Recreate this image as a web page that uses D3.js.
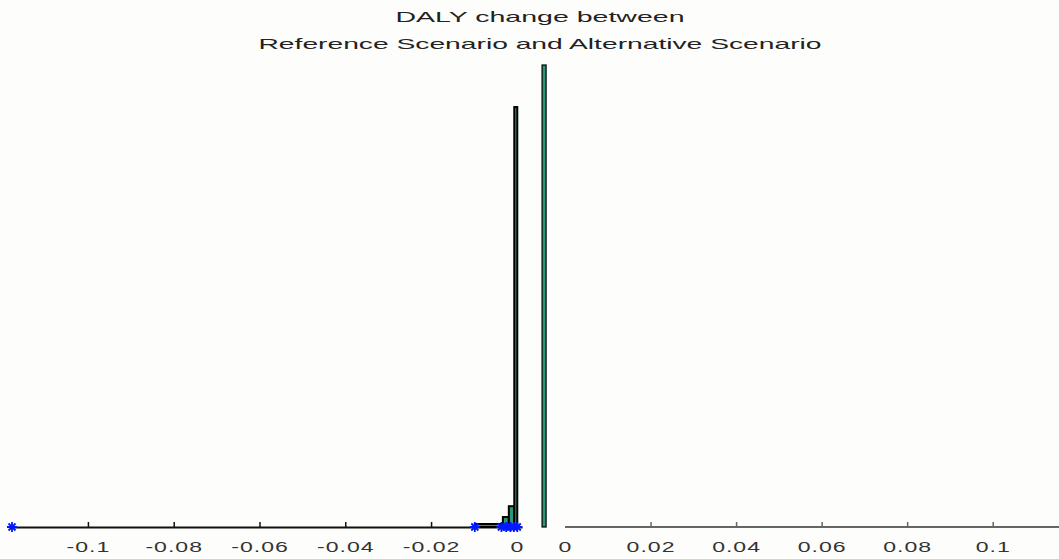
<!DOCTYPE html>
<html>
<head>
<meta charset="utf-8">
<script src="https://cdn.jsdelivr.net/npm/d3@7"></script>
<style>
  body { margin: 0; background: #fdfdfb; }
  svg { display: block; }
  text { font-family: "Liberation Sans", Arial, sans-serif; fill: #222; }
</style>
</head>
<body>
<svg width="1059" height="559"></svg>
<script>
// negative changes: histogram bin edges and counts
var leftBinEdges = [-0.0098, -0.00326, -0.00187, -0.0006, 0.0001];
var leftCounts = [6.5, 21.6, 45, 909];
// the single tall bar drawn next to the positive panel
var rightBinEdges = [-0.00536, -0.00442];
var rightCounts = [1000];
// sample points shown as asterisks on the baseline
var leftSamples = [-0.1177, -0.0098, -0.0036, -0.0025, -0.0015, -0.0007, 0.0001];
var leftTicks = [-0.1, -0.08, -0.06, -0.04, -0.02, 0];
var rightTicks = [0, 0.02, 0.04, 0.06, 0.08, 0.1];
var titleLines = ["DALY change between", "Reference Scenario and Alternative Scenario"];

var baseY = 527;
var svg = d3.select('svg');

var xLeft = d3.scaleLinear().domain([-0.1177, 0.0012]).range([12, 522]);
var xRight = d3.scaleLinear().domain([0, 0.1155]).range([565, 1059]);
var yScale = d3.scaleLinear().domain([0, 1000]).range([baseY, 65]);

var green = "#2a9778";

// title
svg.append("text")
  .attr("x", 540).attr("y", 22)
  .attr("text-anchor", "middle")
  .attr("textLength", 289).attr("lengthAdjust", "spacingAndGlyphs")
  .style("font-size", "15px")
  .text(titleLines[0]);
svg.append("text")
  .attr("x", 540).attr("y", 49)
  .attr("text-anchor", "middle")
  .attr("textLength", 563).attr("lengthAdjust", "spacingAndGlyphs")
  .style("font-size", "15px")
  .text(titleLines[1]);

// axes
function styleAxis (g, color, width) {
  g.select(".domain").attr("stroke", color).attr("stroke-width", width);
  g.selectAll(".tick line").attr("stroke", color).attr("stroke-width", 1.5);
  g.selectAll(".tick text")
    .style("font-size", "14px")
    .style("letter-spacing", "0.6px")
    .style("fill", "#333")
    .attr("transform", "scale(1.65,1)")
    .attr("font-family", null);
}

var axisLeftPanel = d3.axisBottom(xLeft).tickValues(leftTicks)
  .tickSizeInner(-5).tickSizeOuter(0).tickPadding(15)
  .tickFormat(function (d) { return String(d); });
svg.append('g')
  .attr("transform", "translate(0," + baseY + ")")
  .call(axisLeftPanel)
  .call(styleAxis, "#111", 2.2);

var axisRightPanel = d3.axisBottom(xRight).tickValues(rightTicks)
  .tickSizeInner(-5).tickSizeOuter(0).tickPadding(15)
  .tickFormat(function (d) { return String(d); });
var gr = svg.append('g')
  .attr("transform", "translate(0," + baseY + ")")
  .call(axisRightPanel)
  .call(styleAxis, "#666", 2);
gr.select(".domain").attr("d", "M" + xRight(0) + ",0H1059");
gr.selectAll(".tick").filter(function (d) { return d === 0; }).select("line").remove();

// histogram bars
function binData (edges, counts) {
  return counts.map(function (c, i) { return {x0: edges[i], x1: edges[i + 1], n: c}; });
}

svg.append("g").selectAll("rect")
  .data(binData(leftBinEdges, leftCounts))
  .enter()
  .append("rect")
  .attr("x", function (d) { return xLeft(d.x0); })
  .attr("width", function (d) { return xLeft(d.x1) - xLeft(d.x0); })
  .attr("y", function (d) { return yScale(d.n); })
  .attr("height", function (d) { return baseY - yScale(d.n); })
  .attr("fill", green)
  .attr("stroke", "#000")
  .attr("stroke-width", 2);

svg.append("g").selectAll("rect")
  .data(binData(rightBinEdges, rightCounts))
  .enter()
  .append("rect")
  .attr("x", function (d) { return xRight(d.x0); })
  .attr("width", function (d) { return xRight(d.x1) - xRight(d.x0); })
  .attr("y", function (d) { return yScale(d.n); })
  .attr("height", function (d) { return baseY - yScale(d.n); })
  .attr("fill", green)
  .attr("stroke", "#000")
  .attr("stroke-width", 1.2);

// asterisk markers
var r = 5;
var star = "M" + (-r) + ",0H" + r + "M0," + (-r) + "V" + r +
  "M" + (-r * 0.7) + "," + (-r * 0.7) + "L" + (r * 0.7) + "," + (r * 0.7) +
  "M" + (-r * 0.7) + "," + (r * 0.7) + "L" + (r * 0.7) + "," + (-r * 0.7);

svg.append("g").selectAll("path")
  .data(leftSamples)
  .enter()
  .append("path")
  .attr("transform", function (d) { return "translate(" + xLeft(d) + "," + baseY + ")"; })
  .attr("d", star)
  .attr("fill", "none")
  .attr("stroke", "#0018ff")
  .attr("stroke-width", 1.8);
</script>
</body>
</html>
